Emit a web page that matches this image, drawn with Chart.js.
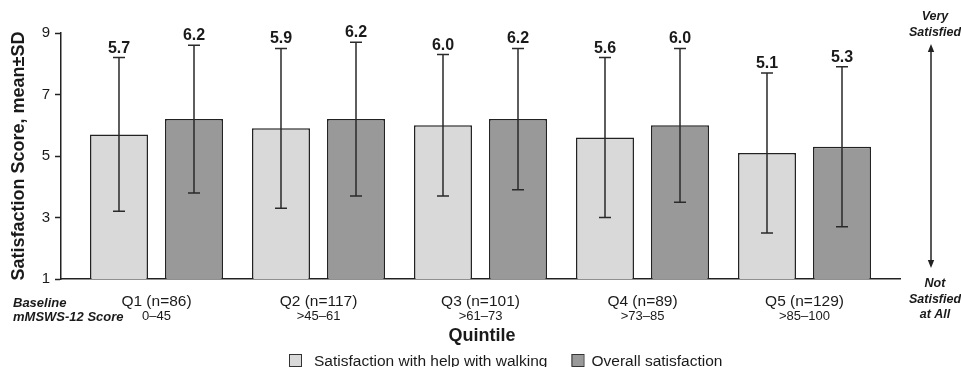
<!DOCTYPE html>
<html>
<head>
<meta charset="utf-8">
<script src="https://cdn.jsdelivr.net/npm/chart.js@4.4.1/dist/chart.umd.min.js"></script>
<style>
  html, body { margin: 0; padding: 0; background: #ffffff; }
  canvas { display: block; }
</style>
</head>
<body>
<canvas id="chart" width="961" height="367"></canvas>
<script>
// Quintile categories and baseline mMSWS-12 score ranges
const quintiles = ['Q1 (n=86)', 'Q2 (n=117)', 'Q3 (n=101)', 'Q4 (n=89)', 'Q5 (n=129)'];
const baselineRanges = ['0\u201345', '>45\u201361', '>61\u201373', '>73\u201385', '>85\u2013100'];

// Satisfaction with help with walking: mean and SD
const walkingMean = [5.7, 5.9, 6.0, 5.6, 5.1];
const walkingSD = [2.5, 2.6, 2.3, 2.6, 2.6];

// Overall satisfaction: mean and SD
const overallMean = [6.2, 6.2, 6.2, 6.0, 5.3];
const overallSD = [2.4, 2.5, 2.3, 2.5, 2.6];

const yTicks = [1, 3, 5, 7, 9];
const seriesNames = ['Satisfaction with help with walking', 'Overall satisfaction'];

const FONT = '"Liberation Sans", Arial, Helvetica, sans-serif';
const INK = '#1a1a1a';

// Mean ± SD whiskers with the mean printed above each one
const errorBars = {
  id: 'errorBars',
  afterDatasetsDraw(chart) {
    const { ctx } = chart;
    const y = chart.scales.y;
    ctx.save();
    chart.data.datasets.forEach((ds, di) => {
      const meta = chart.getDatasetMeta(di);
      meta.data.forEach((bar, i) => {
        const m = ds.data[i].y;
        const sd = ds.sd[i];
        const top = y.getPixelForValue(m + sd);
        const bot = y.getPixelForValue(m - sd);
        ctx.strokeStyle = '#2a2a2a';
        ctx.lineWidth = 1.5;
        ctx.beginPath();
        ctx.moveTo(bar.x, top); ctx.lineTo(bar.x, bot);
        ctx.moveTo(bar.x - 6, top); ctx.lineTo(bar.x + 6, top);
        ctx.moveTo(bar.x - 6, bot); ctx.lineTo(bar.x + 6, bot);
        ctx.stroke();
        ctx.fillStyle = INK;
        ctx.font = 'bold 16px ' + FONT;
        ctx.textAlign = 'center';
        ctx.textBaseline = 'alphabetic';
        ctx.fillText(m.toFixed(1), bar.x, top - 5);
      });
    });
    ctx.restore();
  }
};

// Category labels, axis caption, side annotations and legend
const annotations = {
  id: 'annotations',
  afterDraw(chart) {
    const { ctx, chartArea } = chart;
    const x = chart.scales.x;
    const base = chartArea.bottom;
    ctx.save();
    ctx.fillStyle = INK;
    ctx.textBaseline = 'alphabetic';

    // quintile names and score ranges
    ctx.textAlign = 'center';
    quintiles.forEach((q, i) => {
      const px = x.getPixelForValue(i);
      ctx.font = '15.5px ' + FONT;
      ctx.fillText(q, px, base + 27);
      ctx.font = '13px ' + FONT;
      ctx.fillText(baselineRanges[i], px, base + 41);
    });

    // row caption on the left
    ctx.textAlign = 'left';
    ctx.font = 'italic bold 13px ' + FONT;
    ctx.fillText('Baseline', 13, base + 27.5);
    ctx.fillText('mMSWS-12 Score', 13, base + 42);

    // axis caption
    ctx.textAlign = 'center';
    ctx.font = 'bold 18px ' + FONT;
    ctx.fillText('Quintile', 482, base + 62);

    // scale direction on the right
    const ax = 931;
    ctx.font = 'italic bold 12.5px ' + FONT;
    ctx.fillText('Very', 935, 20);
    ctx.fillText('Satisfied', 935, 36);
    ctx.fillText('Not', 935, 287);
    ctx.fillText('Satisfied', 935, 303);
    ctx.fillText('at All', 935, 318);

    ctx.strokeStyle = '#222';
    ctx.lineWidth = 1.5;
    ctx.beginPath();
    ctx.moveTo(ax, 50); ctx.lineTo(ax, 262);
    ctx.stroke();
    ctx.fillStyle = '#222';
    ctx.beginPath();
    ctx.moveTo(ax, 44); ctx.lineTo(ax - 3.2, 52); ctx.lineTo(ax + 3.2, 52); ctx.closePath();
    ctx.fill();
    ctx.beginPath();
    ctx.moveTo(ax, 268); ctx.lineTo(ax - 3.2, 260); ctx.lineTo(ax + 3.2, 260); ctx.closePath();
    ctx.fill();

    // legend
    let lx = 289;
    const ly = 354;
    ctx.font = '15.5px ' + FONT;
    ctx.textAlign = 'left';
    chart.data.datasets.forEach((ds, di) => {
      ctx.fillStyle = ds.backgroundColor;
      ctx.fillRect(lx, ly, 12, 12);
      ctx.strokeStyle = '#333';
      ctx.lineWidth = 1;
      ctx.strokeRect(lx + 0.5, ly + 0.5, 12, 12);
      ctx.fillStyle = INK;
      const tx = lx + (di === 0 ? 25 : 20);
      ctx.fillText(ds.label, tx, ly + 11.5);
      lx = tx + ctx.measureText(ds.label).width + 24;
    });
    ctx.restore();
  }
};

new Chart(document.getElementById('chart'), {
  type: 'bar',
  data: {
    datasets: [
      {
        label: seriesNames[0],
        data: walkingMean.map((v, i) => ({ x: i, y: v })),
        sd: walkingSD,
        backgroundColor: '#d9d9d9',
        borderColor: '#222222',
        borderWidth: 1.5
      },
      {
        label: seriesNames[1],
        data: overallMean.map((v, i) => ({ x: i, y: v })),
        sd: overallSD,
        backgroundColor: '#999999',
        borderColor: '#222222',
        borderWidth: 1.5
      }
    ]
  },
  options: {
    responsive: false,
    animation: false,
    devicePixelRatio: 1,
    categoryPercentage: 0.926,
    barPercentage: 0.773,
    layout: { padding: { left: 0, right: 61, top: 33, bottom: 0 } },
    plugins: {
      legend: { display: false },
      tooltip: { enabled: false }
    },
    scales: {
      x: {
        type: 'linear',
        offset: false,
        min: -0.5895,
        max: 4.5895,
        afterBuildTicks: s => { s.ticks = quintiles.map((_, i) => ({ value: i })); },
        afterFit: s => { s.height = 88; },
        ticks: { display: false },
        grid: { display: false, drawTicks: false, offset: false },
        border: { display: true, color: '#222', width: 1.5 }
      },
      y: {
        min: 1,
        max: 9,
        afterBuildTicks: s => { s.ticks = yTicks.map(v => ({ value: v })); },
        afterFit: s => { s.width = 61; },
        ticks: {
          padding: 5,
          color: INK,
          font: { family: FONT, size: 15 }
        },
        grid: {
          drawOnChartArea: false,
          drawTicks: true,
          tickLength: 6,
          tickColor: '#222',
          tickWidth: 1.5
        },
        border: { display: true, color: '#222', width: 1.5 },
        title: {
          display: true,
          text: 'Satisfaction Score, mean\u00b1SD',
          color: INK,
          font: { family: FONT, size: 18, weight: 'bold' },
          padding: { top: 8, bottom: 0 }
        }
      }
    }
  },
  plugins: [errorBars, annotations]
});
</script>
</body>
</html>
